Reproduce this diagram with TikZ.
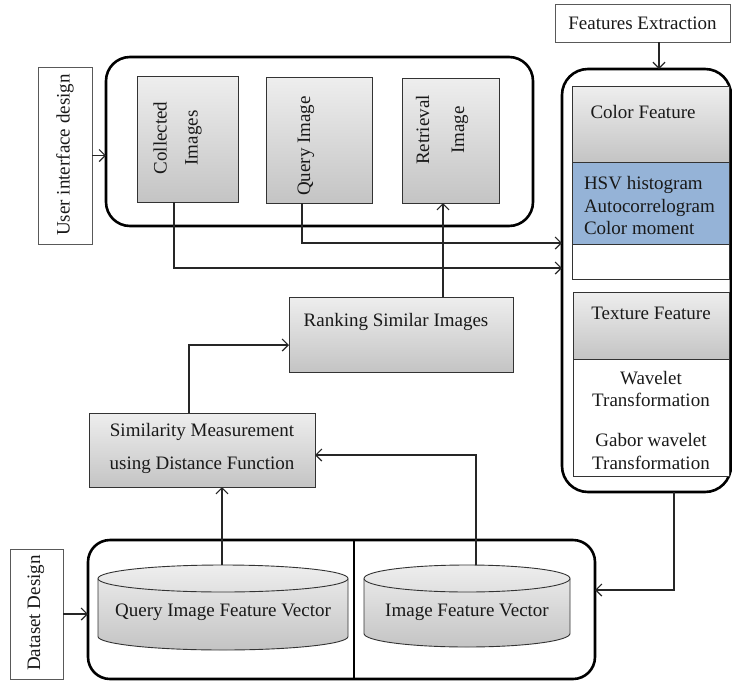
\documentclass[tikz,border=0pt]{standalone}
\usepackage{fontspec}
\setmainfont{Liberation Serif}
\usetikzlibrary{arrows.meta,calc}
\definecolor{gtop}{HTML}{EEEEEE}
\definecolor{gbot}{HTML}{C4C4C4}
\definecolor{hsvblue}{HTML}{95B3D7}
\begin{document}
\begin{tikzpicture}[x=1pt,y=-1pt,
  every node/.style={font=\fontsize{19}{22.5}\selectfont, text=black!90, inner sep=0pt, outer sep=0pt},
  gbox/.style={draw=black!80, line width=0.9pt, top color=gtop, bottom color=gbot, rectangle, anchor=north west},
  tbox/.style={draw=black!65, line width=0.8pt, fill=white, rectangle, anchor=north west},
  cont/.style={draw=black, line width=2.6pt, rectangle, anchor=north west},
  arr/.style={draw=black!85, line width=1.2pt, -{Straight Barb[length=6pt,width=12pt,line width=1.2pt]}},
  ln/.style={draw=black!85, line width=1.2pt},
  cyl/.style={draw=black!80, line width=0.9pt, top color=gtop, bottom color=gbot}]

\useasboundingbox (0,0) rectangle (732,681);

% ---------- user interface ----------
\node[tbox, minimum width=54pt, minimum height=177pt] (uid) at (38,67) {};
\node[rotate=90] (uidt) at (65,155) {User interface design};
\node[cont, rounded corners=24pt, minimum width=427pt, minimum height=169pt] (ui) at (106,57) {};

\node[gbox, minimum width=101pt, minimum height=126pt] (collected) at (137,76) {};
\node[rotate=90, align=center] (collectedt) at (177.5,138) {Collected\\[8.5pt]Images};
\node[gbox, minimum width=106pt, minimum height=126pt] (query) at (266,77) {};
\node[rotate=90] (queryt) at (306,146) {Query Image};
\node[gbox, minimum width=97pt, minimum height=125pt] (retrieval) at (402,78) {};
\node[rotate=90, align=center] (retrievalt) at (442,130) {Retrieval\\[12.5pt]Image};

% ---------- features ----------
\node[tbox, minimum width=175pt, minimum height=38pt] (fe) at (555,4) {};
\node (fet) at (642.5,23) {Features Extraction};
\node[cont, rounded corners=26pt, minimum width=169pt, minimum height=423pt] (feat) at (562,69) {};

\node[gbox, minimum width=157pt, minimum height=76pt] (color) at (572,86) {};
\node (colort) at (643,112) {Color Feature};
\node[rectangle, anchor=north west, draw=black!80, line width=0.9pt, fill=hsvblue, minimum width=157pt, minimum height=82pt] (hsv) at (572,162) {};
\node[align=left, anchor=west] (hsvt) at (584,205.5) {HSV histogram\\Autocorrelogram\\Color moment};
\node[tbox, draw=black!80, minimum width=157pt, minimum height=35pt] (cwhite) at (572,244) {};

\node[gbox, minimum width=156pt, minimum height=67pt] (texture) at (573,292) {};
\node (texturet) at (651,313) {Texture Feature};
\node[tbox, draw=black!80, minimum width=156pt, minimum height=117pt] (twhite) at (573,359) {};
\node[align=center] (twhitet) at (651,420) {Wavelet\\Transformation\\[17.5pt]Gabor wavelet\\Transformation};

% ---------- middle ----------
\node[gbox, minimum width=224pt, minimum height=75pt] (ranking) at (289,297) {};
\node (rankingt) at (396,322) {Ranking Similar Images};
\node[gbox, minimum width=226pt, minimum height=74pt] (sim) at (89,413) {};
\node[align=center] (simt) at (202,448.5) {Similarity Measurement\\[10.5pt]using Distance Function};

% ---------- dataset ----------
\node[tbox, minimum width=53pt, minimum height=130pt] (ds) at (10,549) {};
\node[rotate=90] (dst) at (36,613) {Dataset Design};
\node[cont, rounded corners=22pt, minimum width=507pt, minimum height=139pt] (db) at (88,540) {};
\draw[line width=2.6pt] (354,0 |- db.north) -- (354,0 |- db.south);

% cylinders
\path[cyl] (98,578.5) -- (98,636.5) arc[start angle=180, end angle=0, x radius=125, y radius=13.5]
  -- (348,578.5) arc[start angle=0, end angle=-180, x radius=125, y radius=13.5] -- cycle;
\draw[draw=black!80, line width=0.9pt] (98,578.5) arc[start angle=180, end angle=0, x radius=125, y radius=13.5];
\node (qfv) at (223,612) {Query Image Feature Vector};
\coordinate (qfvtop) at (222,565);

\path[cyl] (364,578.5) -- (364,633.5) arc[start angle=180, end angle=0, x radius=103, y radius=13.5]
  -- (570,578.5) arc[start angle=0, end angle=-180, x radius=103, y radius=13.5] -- cycle;
\draw[draw=black!80, line width=0.9pt] (364,578.5) arc[start angle=180, end angle=0, x radius=103, y radius=13.5];
\node (ifv) at (467,612) {Image Feature Vector};
\coordinate (ifvtop) at (476,565);

% ---------- connectors ----------
\draw[arr] (uid.east) -- (uid.east -| ui.west);
\draw[arr] ([xshift=16.5pt]fe.south) -- ([xshift=16.5pt]fe.south |- feat.north);
\draw[arr] ([xshift=-13.5pt]collected.south) |- (feat.west |- 0,268);
\draw[arr] ([xshift=-17pt]query.south) |- (feat.west |- 0,243);
\draw[arr] ([xshift=42pt]ranking.north) -- ([xshift=42pt]ranking.north |- retrieval.south);
\draw[arr] ([xshift=-13pt]sim.north) |- (ranking.west |- 0,345);
\draw[arr] (qfvtop) -- (qfvtop |- sim.south);
\draw[arr] (ifvtop) |- (sim.east |- 0,455);
\draw[arr] ([xshift=27.5pt]feat.south) |- (db.east |- 0,590);
\draw[arr] (ds.east) -- (ds.east -| db.west);
\end{tikzpicture}
\end{document}
